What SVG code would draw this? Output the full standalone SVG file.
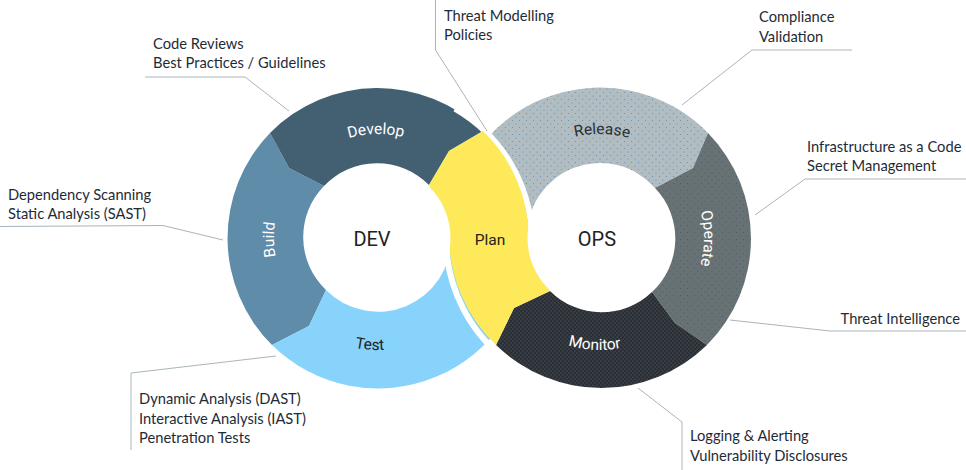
<svg xmlns="http://www.w3.org/2000/svg" width="966" height="470" viewBox="0 0 966 470">
<defs>
<style>
.lbl{font-family:Lato,"Open Sans","Liberation Sans",sans-serif;font-size:14.7px;fill:#1e2b37}
.seg{font-family:Roboto,"Noto Sans","Liberation Sans",sans-serif;font-size:15.5px}
.big{font-family:Roboto,"Noto Sans","Liberation Sans",sans-serif;font-size:20px;fill:#222;text-anchor:middle}
.lead{fill:none;stroke:#a9b5bb;stroke-width:1}
.gap{fill:none;stroke:#fff;stroke-width:6}
.hole{fill:#fff}
</style>
<pattern id="dRel" width="7" height="7" patternUnits="userSpaceOnUse">
<rect width="7" height="7" fill="#b2bdc2"/>
<circle cx="1.5" cy="1.5" r="0.6" fill="#5a8db6"/>
<circle cx="5" cy="5" r="0.6" fill="#5a8db6"/>
</pattern>
<pattern id="dOpe" width="7" height="7" patternUnits="userSpaceOnUse">
<rect width="7" height="7" fill="#687173"/>
<circle cx="1.5" cy="1.5" r="0.55" fill="#3f5b72"/>
<circle cx="5" cy="5" r="0.55" fill="#3f5b72"/>
</pattern>
<pattern id="dMon" width="4" height="4" patternUnits="userSpaceOnUse">
<rect width="4" height="4" fill="#2b2f34"/>
<circle cx="1" cy="1" r="0.5" fill="#5f7688"/>
<circle cx="3" cy="3" r="0.5" fill="#5f7688"/>
</pattern>
<path id="pDevelop" d="M 287.9 186 A 104 104 0 0 1 468.1 186"/>
<path id="pRelease" d="M 509.9 186 A 104 104 0 0 1 690.1 186"/>
<path id="pBuild" d="M 326 328.1 A 104 104 0 0 1 326 147.9"/>
<path id="pOperate" d="M 652 147.9 A 104 104 0 0 1 652 328.1"/>
<path id="pTest" d="M 281 294 A 112 112 0 0 0 475 294"/>
<path id="pMonitor" d="M 503 294 A 112 112 0 0 0 697 294"/>
</defs>
<rect width="966" height="470" fill="#fff"/>

<g id="release">
<path d="M 449 238 A 151 151 0 0 1 708 133 L 693 168 L 655 188 A 73 73 0 0 0 527 238 Z" fill="url(#dRel)"/>
<text class="seg" fill="#2a2f35" text-anchor="middle"><textPath href="#pRelease" startOffset="110.9">Release</textPath></text>
</g>
<g id="operate">
<path d="M 708 133 A 151 151 0 0 1 707 345 L 675 323 L 652 292 A 73 73 0 0 0 655 188 L 693 168 Z" fill="url(#dOpe)"/>
<text class="seg" fill="#fff" text-anchor="middle"><textPath href="#pOperate" startOffset="109.4">Operate</textPath></text>
</g>
<g id="monitor">
<path d="M 707 345 A 151 151 0 0 1 496 345 L 514 308 L 550 291 A 73 73 0 0 0 652 292 L 675 323 Z" fill="url(#dMon)"/>
<text class="seg" fill="#fff" text-anchor="middle"><textPath href="#pMonitor" startOffset="111.8">Monitor</textPath></text>
</g>
<g id="build">
<path d="M 272 345 A 151 151 0 0 1 270 133 L 289 168 L 324 186 A 73 73 0 0 0 326 290 L 309 326 Z" fill="#5f8ca8"/>
<text class="seg" fill="#fff" text-anchor="middle"><textPath href="#pBuild" startOffset="107.4">Build</textPath></text>
</g>
<g id="develop">
<path d="M 270 133 A 151 151 0 0 1 483 131 L 449 151 L 429 185 A 73 73 0 0 0 324 186 L 289 168 Z" fill="#436073"/>
<text class="seg" fill="#fff" text-anchor="middle"><textPath href="#pDevelop" startOffset="106.9">Develop</textPath></text>
</g>
<g id="test">
<path d="M 529 238 A 151 151 0 0 1 272 345 L 309 326 L 326 290 A 73 73 0 0 0 451 238 Z" fill="#87d3fb"/>
<text class="seg" fill="#222" text-anchor="middle"><textPath href="#pTest" startOffset="108.8">Test</textPath></text>
</g>
<g id="plan">
<path class="gap" d="M 455 108.6 A 154 154 0 0 1 532 238"/>
<path class="gap" d="M 446 238 A 154 154 0 0 0 511.7 364.1"/>
<path d="M 483 131 A 151 151 0 0 1 529 238 L 550 291 L 514 308 L 496 345 A 151 151 0 0 1 449 238 L 429 185 L 449 151 Z" fill="#fde95a"/>
<text class="seg" x="490" y="244.5" fill="#222" text-anchor="middle" font-size="16">Plan</text>
</g>
<g id="dev">
<circle class="hole" cx="378" cy="238" r="72.5"/>
<text class="big" x="372" y="245.5">DEV</text>
</g>
<g id="ops">
<circle class="hole" cx="600" cy="238" r="72.5"/>
<text class="big" x="597" y="245.5">OPS</text>
</g>

<g id="connectors">
<path class="lead" d="M 145 77 L 245 77 L 289 111"/>
<path class="lead" d="M 0 226.5 L 163 225.5 L 223 240"/>
<path class="lead" d="M 435.5 0 L 435.5 50 L 487 131"/>
<path class="lead" d="M 852 50 L 752 50 L 682 105"/>
<path class="lead" d="M 966 179 L 805 179 L 755 215"/>
<path class="lead" d="M 966 331 L 830 331 L 730 320"/>
<path class="lead" d="M 638 388 L 682 422 L 682 470"/>
<path class="lead" d="M 276 356 L 131 373 L 131 450"/>
</g>

<g id="note-develop">
<text class="lbl" x="153" y="49">Code Reviews</text>
<text class="lbl" x="153" y="68">Best Practices / Guidelines</text>
</g>
<g id="note-build">
<text class="lbl" x="8" y="199.5">Dependency Scanning</text>
<text class="lbl" x="8" y="218.5">Static Analysis (SAST)</text>
</g>
<g id="note-plan">
<text class="lbl" x="444" y="21">Threat Modelling</text>
<text class="lbl" x="444" y="40">Policies</text>
</g>
<g id="note-release">
<text class="lbl" x="759" y="22">Compliance</text>
<text class="lbl" x="759" y="41.5">Validation</text>
</g>
<g id="note-operate1">
<text class="lbl" x="807" y="151.5">Infrastructure as a Code</text>
<text class="lbl" x="807" y="170.5">Secret Management</text>
</g>
<g id="note-operate2">
<text class="lbl" x="960" y="323.5" text-anchor="end">Threat Intelligence</text>
</g>
<g id="note-monitor">
<text class="lbl" x="690" y="440.5">Logging &amp; Alerting</text>
<text class="lbl" x="690" y="460.5">Vulnerability Disclosures</text>
</g>
<g id="note-test">
<text class="lbl" x="139" y="404">Dynamic Analysis (DAST)</text>
<text class="lbl" x="139" y="423.5">Interactive Analysis (IAST)</text>
<text class="lbl" x="139" y="443">Penetration Tests</text>
</g>
</svg>
